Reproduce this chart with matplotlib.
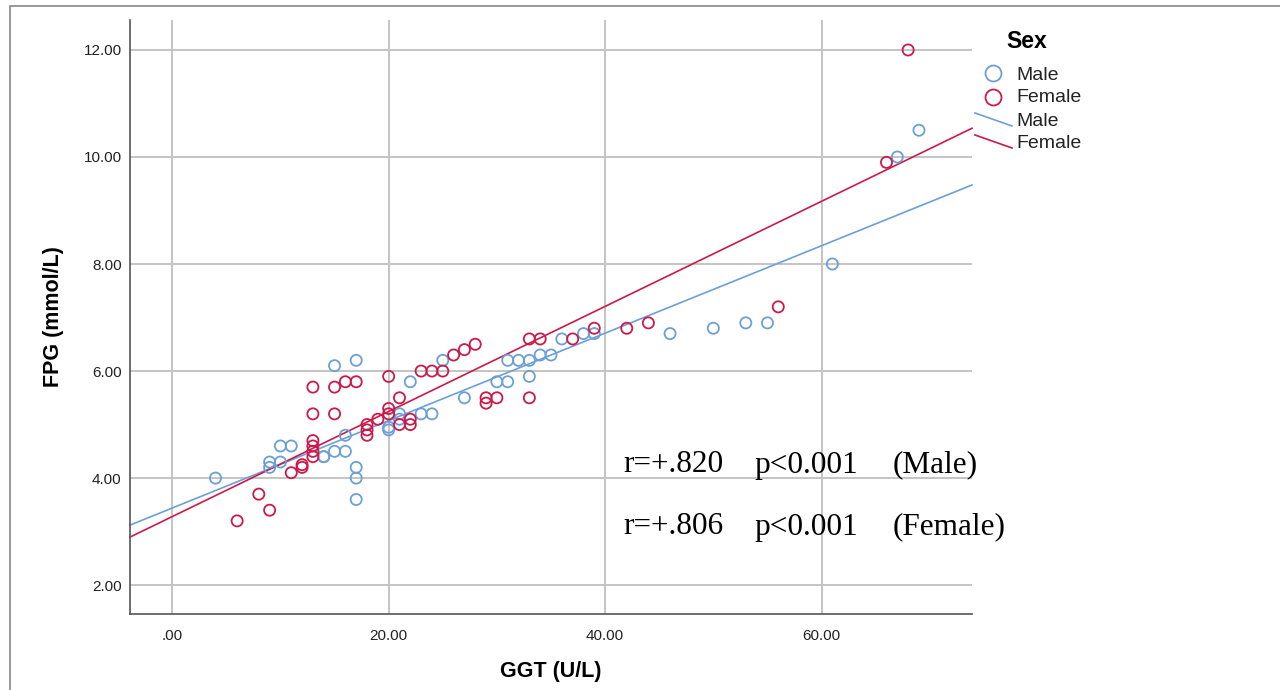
import matplotlib.pyplot as plt
import numpy as np
from matplotlib.lines import Line2D
from matplotlib.patches import Rectangle

plt.rcParams["font.family"] = ["Liberation Sans", "DejaVu Sans"]

# Male points (GGT, FPG)
male_ggt = [4, 9, 9, 10, 11, 10, 14, 14, 15, 17, 15, 16, 16, 17, 17, 17,
            20, 20, 21, 21, 22, 23, 24, 25, 27, 30, 31, 31, 32, 33, 33,
            34, 35, 36, 38, 39, 46, 50, 53, 55, 61, 67, 69]
male_fpg = [4.0, 4.3, 4.2, 4.6, 4.6, 4.3, 4.4, 4.4, 6.1, 6.2, 4.5, 4.5, 4.8, 4.2, 4.0, 3.6,
            4.9, 4.95, 5.2, 5.1, 5.8, 5.2, 5.2, 6.2, 5.5, 5.8, 5.8, 6.2, 6.2, 6.2, 5.9,
            6.3, 6.3, 6.6, 6.7, 6.7, 6.7, 6.8, 6.9, 6.9, 8.0, 10.0, 10.5]

# Female points (GGT, FPG)
female_ggt = [6, 8, 9, 11, 12, 12, 13, 13, 13, 13, 13, 13, 15, 15, 16, 17,
              18, 18, 18, 19, 20, 20, 20, 21, 21, 22, 22, 23, 24, 25, 26, 27, 28,
              29, 29, 30, 33, 34, 33, 37, 39, 42, 44, 56, 66, 68]
female_fpg = [3.2, 3.7, 3.4, 4.1, 4.2, 4.25, 4.7, 4.6, 4.5, 4.4, 5.7, 5.2, 5.7, 5.2, 5.8, 5.8,
              5.0, 4.9, 4.8, 5.1, 5.9, 5.2, 5.3, 5.5, 5.0, 5.1, 5.0, 6.0, 6.0, 6.0, 6.3, 6.4, 6.5,
              5.5, 5.4, 5.5, 6.6, 6.6, 5.5, 6.6, 6.8, 6.8, 6.9, 7.2, 9.9, 12.0]

# fit lines: (intercept, slope)
male_fit = (3.44, 0.0817)
female_fit = (3.28, 0.0982)

xticks = [0, 20, 40, 60]
xtick_labels = [".00", "20.00", "40.00", "60.00"]
yticks = [2, 4, 6, 8, 10, 12]
ytick_labels = ["2.00", "4.00", "6.00", "8.00", "10.00", "12.00"]

c_male = "#6c9fd8"
c_female = "#cc1a48"

fig = plt.figure(figsize=(12.8, 6.9), dpi=100)
ax = fig.add_axes([130 / 1280, 1 - 614 / 690, 842 / 1280, 594 / 690])

ax.set_xlim(-3.9, 73.9)
ax.set_ylim(1.46, 12.56)

ax.grid(True, color="#c4c4c4", linewidth=1.4)
ax.set_axisbelow(True)

xs = np.array([-3.9, 73.9])
ax.plot(xs, male_fit[0] + male_fit[1] * xs, color=c_male, lw=1.2, clip_on=False)
ax.plot(xs, female_fit[0] + female_fit[1] * xs, color=c_female, lw=1.2, clip_on=False)

ax.scatter(male_ggt, male_fpg, s=64, facecolors="none", edgecolors=c_male, linewidths=1.3, zorder=3)
ax.scatter(female_ggt, female_fpg, s=64, facecolors="none", edgecolors=c_female, linewidths=1.3, zorder=3)

ax.set_xticks(xticks)
ax.set_xticklabels(xtick_labels)
ax.set_yticks(yticks)
ax.set_yticklabels(ytick_labels)
ax.tick_params(length=0, labelsize=11, colors="#222222")
ax.tick_params(axis="x", pad=11)
ax.tick_params(axis="y", pad=6)

for s in ["top", "right"]:
    ax.spines[s].set_visible(False)
for s in ["left", "bottom"]:
    ax.spines[s].set_color("#555555")
    ax.spines[s].set_linewidth(1.2)

ax.set_xlabel("GGT (U/L)", fontsize=15.5, fontweight="bold", labelpad=13)
ax.set_ylabel("FPG (mmol/L)", fontsize=15.5, fontweight="bold", labelpad=14)


def fx(px):
    return px / 1280


def fy(py):
    return 1 - py / 690


# annotation text
stats = [(465, "r=+.820", "p<0.001", "(Male)"), (527, "r=+.806", "p<0.001", "(Female)")]
for py, r_txt, p_txt, s_txt in stats:
    for px, t in [(623, r_txt), (754, p_txt), (893, s_txt)]:
        fig.text(fx(px), fy(py), t, fontsize=22.5, family="Liberation Serif", va="center", ha="left")

# legend (drawn by hand in figure pixels)
fig.text(fx(1006), fy(42), "Sex", fontsize=16.5, fontweight="bold", va="center")
fig.add_artist(Line2D([fx(993)], [fy(73)], marker="o", ms=11.5, mfc="none", mec=c_male, mew=1.3))
fig.add_artist(Line2D([fx(993)], [fy(97)], marker="o", ms=11.5, mfc="none", mec=c_female, mew=1.3))
fig.add_artist(Line2D([fx(975), fx(1012)], [fy(113), fy(126)], color=c_male, lw=1.2))
fig.add_artist(Line2D([fx(975), fx(1012)], [fy(135), fy(148)], color=c_female, lw=1.2))
for py, lab in [(75, "Male"), (98, "Female"), (122, "Male"), (144, "Female")]:
    fig.text(fx(1016), fy(py), lab, fontsize=14, va="center", color="#222222")

# outer frame
fig.add_artist(Rectangle((fx(10), fy(700)), 1.2, 700 / 690 - 13 / 690 + 0.01, transform=fig.transFigure,
                         fill=False, edgecolor="#888888", lw=1.2))

fig.savefig("out.png", dpi=100)
